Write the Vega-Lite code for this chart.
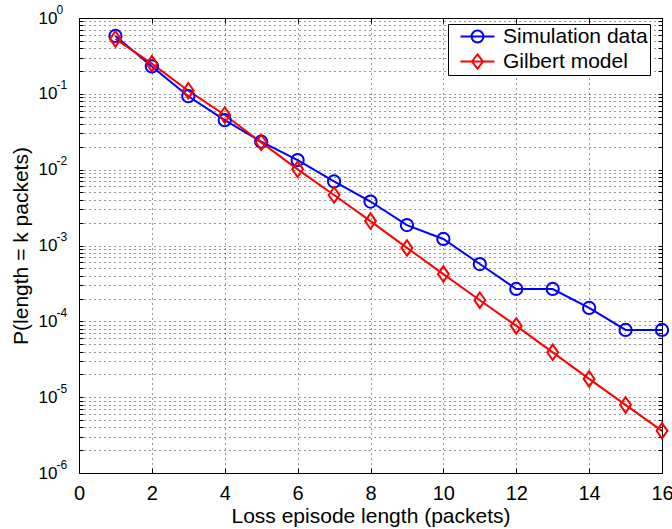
{
  "$schema": "https://vega.github.io/schema/vega-lite/v6.json",
  "width": 583,
  "height": 455,
  "autosize": {"type": "none"},
  "padding": {"left": 79, "top": 18, "right": 10, "bottom": 56},
  "background": "white",
  "config": {
    "font": "Liberation Sans",
    "view": {"stroke": "black", "strokeWidth": 1},
    "axis": {"domainColor": "black", "tickColor": "black", "labelColor": "black", "titleColor": "black", "titleFontWeight": "normal", "labelFont": "Liberation Sans", "titleFont": "Liberation Sans"}
  },
  "data": {
    "values": [
      {"k": 1, "p": 0.58, "series": "Simulation data"},
      {"k": 2, "p": 0.23, "series": "Simulation data"},
      {"k": 3, "p": 0.093, "series": "Simulation data"},
      {"k": 4, "p": 0.045, "series": "Simulation data"},
      {"k": 5, "p": 0.0234, "series": "Simulation data"},
      {"k": 6, "p": 0.0134, "series": "Simulation data"},
      {"k": 7, "p": 0.0070, "series": "Simulation data"},
      {"k": 8, "p": 0.0038, "series": "Simulation data"},
      {"k": 9, "p": 0.00186, "series": "Simulation data"},
      {"k": 10, "p": 0.00122, "series": "Simulation data"},
      {"k": 11, "p": 0.00057, "series": "Simulation data"},
      {"k": 12, "p": 0.000267, "series": "Simulation data"},
      {"k": 13, "p": 0.000267, "series": "Simulation data"},
      {"k": 14, "p": 0.00015, "series": "Simulation data"},
      {"k": 15, "p": 0.000077, "series": "Simulation data"},
      {"k": 16, "p": 0.000077, "series": "Simulation data"},
      {"k": 1, "p": 0.53, "series": "Gilbert model"},
      {"k": 2, "p": 0.25, "series": "Gilbert model"},
      {"k": 3, "p": 0.11, "series": "Gilbert model"},
      {"k": 4, "p": 0.0526, "series": "Gilbert model"},
      {"k": 5, "p": 0.0229, "series": "Gilbert model"},
      {"k": 6, "p": 0.0101, "series": "Gilbert model"},
      {"k": 7, "p": 0.00463, "series": "Gilbert model"},
      {"k": 8, "p": 0.0021, "series": "Gilbert model"},
      {"k": 9, "p": 0.00093, "series": "Gilbert model"},
      {"k": 10, "p": 0.00042, "series": "Gilbert model"},
      {"k": 11, "p": 0.00019, "series": "Gilbert model"},
      {"k": 12, "p": 0.000087, "series": "Gilbert model"},
      {"k": 13, "p": 0.000039, "series": "Gilbert model"},
      {"k": 14, "p": 0.0000174, "series": "Gilbert model"},
      {"k": 15, "p": 0.0000079, "series": "Gilbert model"},
      {"k": 16, "p": 0.0000036, "series": "Gilbert model"}
    ]
  },
  "layer": [
    {
      "mark": {"type": "line", "strokeWidth": 2, "clip": false},
      "encoding": {
        "x": {
          "field": "k", "type": "quantitative",
          "scale": {"domain": [0, 16], "nice": false, "zero": false},
          "axis": {
            "orient": "bottom", "values": [0, 2, 4, 6, 8, 10, 12, 14, 16],
            "title": "Loss episode length (packets)", "titleFontSize": 21, "titlePadding": 2,
            "labelFontSize": 20, "labelPadding": 15, "tickSize": -5,
            "grid": true, "gridDash": [1, 4], "gridColor": "black", "gridOpacity": 0.8,
            "labelFlush": false
          }
        },
        "y": {
          "field": "p", "type": "quantitative",
          "scale": {"type": "log", "domain": [0.000001, 1], "nice": false},
          "axis": {
            "orient": "left",
            "values": [0.000001, 0.000002, 0.000003, 0.000004, 0.000005, 0.000006, 0.000007, 0.000008, 0.000009,
                       0.00001, 0.00002, 0.00003, 0.00004, 0.00005, 0.00006, 0.00007, 0.00008, 0.00009,
                       0.0001, 0.0002, 0.0003, 0.0004, 0.0005, 0.0006, 0.0007, 0.0008, 0.0009,
                       0.001, 0.002, 0.003, 0.004, 0.005, 0.006, 0.007, 0.008, 0.009,
                       0.01, 0.02, 0.03, 0.04, 0.05, 0.06, 0.07, 0.08, 0.09,
                       0.1, 0.2, 0.3, 0.4, 0.5, 0.6, 0.7, 0.8, 0.9, 1],
            "labelExpr": "abs(log(datum.value)/LN10 - round(log(datum.value)/LN10)) < 0.001 ? '10' : ''",
            "labelFontSize": 17, "labelPadding": 26, "tickSize": -4,
            "title": "P(length = k packets)", "titleFontSize": 21, "titlePadding": 7,
            "grid": true, "gridDash": [1, 4], "gridColor": "black", "gridOpacity": 0.8,
            "labelFlush": false, "labelOverlap": false
          }
        },
        "color": {
          "field": "series", "type": "nominal",
          "scale": {"domain": ["Simulation data", "Gilbert model"], "range": ["#0000ff", "#ff0000"]},
          "legend": {
            "title": null, "orient": "none", "legendX": 369, "legendY": 6,
            "fillColor": "white", "strokeColor": "black", "padding": 2, "cornerRadius": 0,
            "labelFontSize": 21, "labelFont": "Liberation Sans", "labelColor": "black",
            "symbolSize": 289, "symbolStrokeWidth": 2, "symbolOffset": 17, "labelOffset": 15, "rowPadding": 3,
            "encode": {
              "symbols": {
                "update": {
                  "shape": {"signal": "datum.value === 'Simulation data' ? 'M-2,0H2M0.7,0A0.7,0.7,0,1,1,-0.7,0A0.7,0.7,0,1,1,0.7,0' : 'M-2,0H2M-0.65,0L0,-0.85L0.65,0L0,0.85Z'"},
                  "fill": {"value": "transparent"},
                  "strokeWidth": {"value": 2}
                }
              }
            }
          }
        }
      }
    },
    {
      "transform": [{"filter": "datum.series === 'Simulation data'"}],
      "mark": {"type": "point", "shape": "circle", "filled": false, "size": 150, "strokeWidth": 2, "opacity": 1, "clip": false},
      "encoding": {
        "x": {
          "field": "k", "type": "quantitative",
          "axis": {"orient": "top", "values": [0, 2, 4, 6, 8, 10, 12, 14, 16], "labels": false, "title": null, "grid": false, "tickSize": -5}
        },
        "y": {
          "field": "p", "type": "quantitative",
          "axis": {
            "orient": "right",
            "values": [0.000001, 0.000002, 0.000003, 0.000004, 0.000005, 0.000006, 0.000007, 0.000008, 0.000009,
                       0.00001, 0.00002, 0.00003, 0.00004, 0.00005, 0.00006, 0.00007, 0.00008, 0.00009,
                       0.0001, 0.0002, 0.0003, 0.0004, 0.0005, 0.0006, 0.0007, 0.0008, 0.0009,
                       0.001, 0.002, 0.003, 0.004, 0.005, 0.006, 0.007, 0.008, 0.009,
                       0.01, 0.02, 0.03, 0.04, 0.05, 0.06, 0.07, 0.08, 0.09,
                       0.1, 0.2, 0.3, 0.4, 0.5, 0.6, 0.7, 0.8, 0.9, 1],
            "labels": false, "title": null, "grid": false, "tickSize": -4
          }
        },
        "color": {"field": "series", "type": "nominal", "legend": null}
      }
    },
    {
      "transform": [{"filter": "datum.series === 'Gilbert model'"}],
      "mark": {"type": "point", "shape": "M-0.7,0L0,-1L0.7,0L0,1Z", "filled": false, "size": 240, "strokeWidth": 2, "opacity": 1, "clip": false},
      "encoding": {
        "x": {"field": "k", "type": "quantitative", "axis": null},
        "y": {
          "field": "p", "type": "quantitative",
          "axis": {
            "orient": "left",
            "values": [0.000001, 0.00001, 0.0001, 0.001, 0.01, 0.1, 1],
            "labelExpr": "['0','-1','-2','-3','-4','-5','-6'][-round(log(datum.value)/LN10)]",
            "labelFontSize": 12, "labelAlign": "left", "labelPadding": 23, "labelOffset": -9,
            "ticks": false, "domain": false, "grid": false, "title": null, "labelFlush": false, "labelOverlap": false
          }
        },
        "color": {"field": "series", "type": "nominal", "legend": null}
      }
    }
  ],
  "resolve": {"axis": {"x": "independent", "y": "independent"}}
}
